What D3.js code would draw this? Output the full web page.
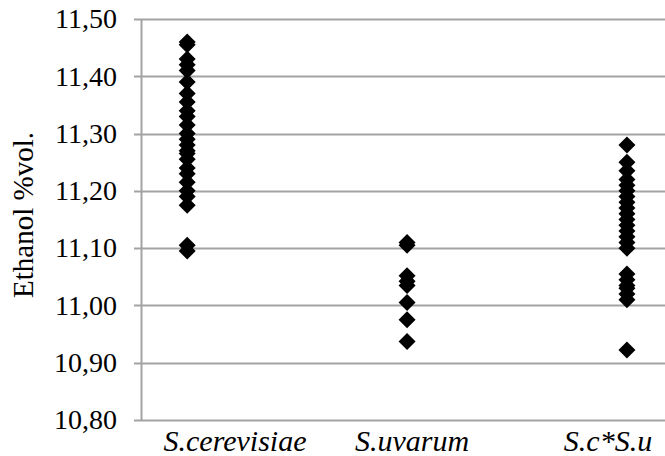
<!DOCTYPE html>
<html>
<head>
<meta charset="utf-8">
<script src="https://cdn.jsdelivr.net/npm/d3@7"></script>
<style>
  body { margin: 0; background: #fff; }
  svg text { font-family: "Liberation Serif", "Times New Roman", Times, serif; fill: #000; }
</style>
</head>
<body>
<script>
var categories = ['S.cerevisiae', 'S.uvarum', 'S.c*S.u']

var cerevisiae = [11.46, 11.455, 11.43, 11.42, 11.41, 11.39, 11.37, 11.355, 11.34, 11.33, 11.315,
  11.30, 11.29, 11.28, 11.27, 11.265, 11.255, 11.24, 11.23, 11.215, 11.20, 11.19, 11.175, 11.105, 11.095]
var uvarum = [11.11, 11.105, 11.052, 11.042, 11.035, 11.005, 10.975, 10.937]
var hybrid = [11.28, 11.25, 11.235, 11.22, 11.21, 11.20, 11.19, 11.18, 11.17, 11.16, 11.15, 11.14,
  11.13, 11.12, 11.11, 11.10, 11.055, 11.045, 11.035, 11.03, 11.02, 11.01, 10.922]

var yTicks = [10.8, 10.9, 11.0, 11.1, 11.2, 11.3, 11.4, 11.5]

var series = [cerevisiae, uvarum, hybrid]

var W = 665, H = 456
var m = {left: 141, top: 19, right: 0, bottom: 36}

var svg = d3.select('body').append('svg').attr('width', W).attr('height', H)

var x = d3.scaleLinear().domain([0.79, 3.173]).range([m.left, W - m.right])
// category labels sit a bit off the marker columns in the original
var xLabel = d3.scaleOrdinal().domain(categories).range([235, 412, 608])
var y = d3.scaleLinear().domain([10.8, 11.5]).range([H - m.bottom, m.top])

var grid = '#a3a3a3'
var serif = '"Liberation Serif", "Times New Roman", Times, serif'
var fmt = function(d){ return d3.format('.2f')(d).replace('.', ',') }

// horizontal gridlines (with little ticks sticking out left)
svg.append('g').selectAll('line').data(yTicks).join('line')
  .attr('x1', m.left - 7).attr('x2', W)
  .attr('y1', function(d){ return Math.round(y(d)) + 0.5 })
  .attr('y2', function(d){ return Math.round(y(d)) + 0.5 })
  .attr('stroke', grid).attr('stroke-width', 2)

// left axis line
svg.append('line')
  .attr('x1', m.left + 0.5).attr('x2', m.left + 0.5)
  .attr('y1', y(11.5)).attr('y2', y(10.8))
  .attr('stroke', grid).attr('stroke-width', 2)

svg.append('g').selectAll('text').data(yTicks).join('text')
  .attr('x', 117).attr('y', function(d){ return y(d) })
  .attr('dy', '0.33em').attr('text-anchor', 'end')
  .attr('font-family', serif).attr('font-size', 28)
  .text(fmt)

svg.append('text')
  .attr('transform', 'translate(33,215) rotate(-90)')
  .attr('text-anchor', 'middle')
  .attr('font-family', serif).attr('font-size', 29)
  .text('Ethanol %vol.')

svg.append('g').selectAll('text').data(categories).join('text')
  .attr('x', function(d){ return xLabel(d) })
  .attr('y', 451)
  .attr('text-anchor', 'middle')
  .attr('font-family', serif).attr('font-size', 30).attr('font-style', 'italic')
  .text(function(d){ return d })

var diamond = {
  draw: function(ctx, size){
    var r = Math.sqrt(size / 2)
    ctx.moveTo(0, -r); ctx.lineTo(r, 0); ctx.lineTo(0, r); ctx.lineTo(-r, 0); ctx.closePath()
  }
}
var sym = d3.symbol().type(diamond).size(2 * 8.5 * 8.5)

var pts = []
series.forEach(function(s, i){ s.forEach(function(v){ pts.push({cat: i + 1, v: v}) }) })

svg.append('g').selectAll('path').data(pts).join('path')
  .attr('transform', function(d){ return 'translate(' + x(d.cat) + ',' + y(d.v) + ')' })
  .attr('d', sym)
  .attr('fill', '#000')
</script>
</body>
</html>
